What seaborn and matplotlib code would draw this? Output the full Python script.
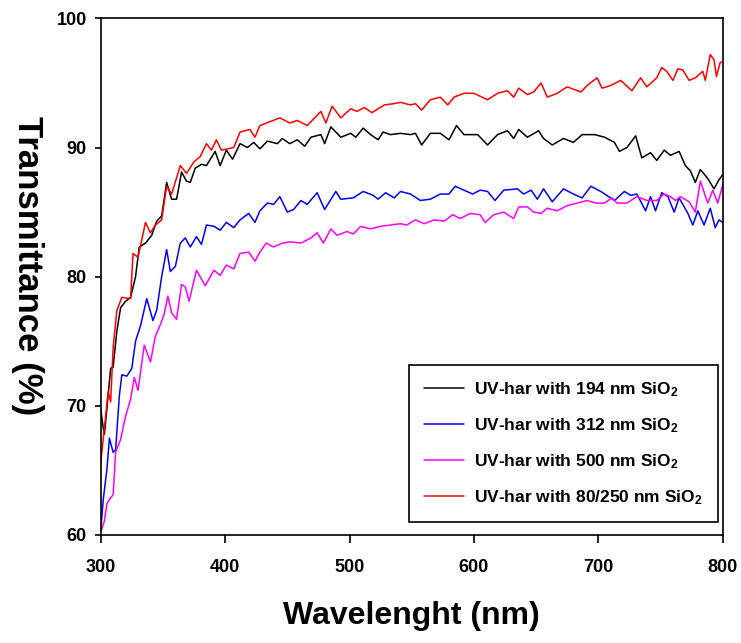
import matplotlib
matplotlib.use("Agg")
import matplotlib.pyplot as plt
from matplotlib import font_manager
import seaborn as sns
import pandas as pd

# ---- data ----
black_x = [300, 302, 303, 305, 308, 310, 313, 316, 320, 324, 328, 331, 336, 341, 345, 349, 353, 357, 361, 365,
           369, 372, 376, 381, 385, 392, 396, 401, 406, 412, 418, 423, 428, 434, 442, 446, 452, 458, 464, 469,
           477, 480, 485, 493, 501, 505, 511, 517, 523, 527, 533, 541, 549, 553, 558, 565, 573, 580, 586, 592,
           603, 611, 619, 627, 632, 636, 643, 652, 656, 663, 672, 680, 687, 697, 705, 713, 717, 723, 730, 735,
           742, 747, 753, 758, 765, 770, 774, 778, 782, 788, 793, 797, 800]
black_y = [69.8, 68.3, 67.8, 69.8, 72.9, 73.0, 75.8, 77.6, 78.1, 78.4, 80.0, 82.3, 82.6, 83.2, 84.3, 84.7, 87.3, 86.0, 86.0, 88.1,
           87.4, 87.3, 88.4, 88.7, 88.6, 89.7, 88.6, 89.8, 89.1, 90.3, 90.0, 90.4, 89.9, 90.5, 90.3, 90.7, 90.3, 90.6, 90.1, 90.8,
           91.0, 90.3, 91.6, 90.8, 91.1, 90.8, 91.5, 91.0, 90.6, 91.2, 91.0, 91.1, 91.0, 91.1, 90.2, 91.1, 91.1, 90.6, 91.7, 91.0,
           91.0, 90.2, 91.0, 91.3, 90.7, 91.4, 90.8, 91.3, 90.7, 90.2, 90.7, 90.4, 91.0, 91.0, 90.8, 90.4, 89.7, 90.0, 90.9, 89.2,
           89.6, 89.0, 89.8, 89.4, 89.7, 88.6, 88.2, 87.3, 88.3, 87.6, 86.8, 87.5, 87.9]

blue_x = [300, 302, 305, 307, 310, 312, 315, 317, 321, 325, 328, 332, 337, 342, 345, 349, 353, 356, 360, 364,
          368, 372, 377, 381, 385, 391, 396, 401, 407, 412, 419, 424, 428, 434, 439, 444, 450, 455, 461, 466,
          474, 480, 489, 493, 503, 511, 519, 523, 529, 536, 541, 549, 557, 565, 573, 580, 585, 592, 599, 605,
          611, 617, 624, 635, 640, 646, 651, 656, 663, 672, 680, 687, 694, 702, 713, 721, 726, 731, 738, 742,
          746, 751, 756, 761, 765, 772, 776, 780, 785, 790, 794, 797, 800]
blue_y = [60.3, 62.7, 65.1, 67.5, 66.4, 66.6, 70.8, 72.4, 72.3, 72.9, 75.0, 76.2, 78.3, 76.6, 77.4, 80.0, 82.1, 80.4, 80.8, 82.6,
          83.0, 82.3, 83.1, 82.5, 84.0, 83.9, 83.6, 84.2, 83.8, 84.4, 84.9, 84.2, 85.1, 85.7, 85.6, 86.2, 85.0, 85.2, 85.9, 85.6,
          86.5, 85.2, 86.6, 86.0, 86.1, 86.6, 86.3, 86.0, 86.5, 86.1, 86.6, 86.4, 85.9, 86.0, 86.4, 86.4, 87.0, 86.7, 86.4, 86.7,
          86.6, 85.9, 86.7, 86.8, 86.4, 86.7, 86.0, 86.8, 85.8, 86.8, 86.4, 86.1, 87.0, 86.6, 85.9, 86.6, 86.3, 86.4, 85.1, 86.2,
          85.1, 86.5, 86.2, 85.0, 86.1, 84.9, 84.0, 85.1, 84.0, 85.3, 83.8, 84.4, 84.2]

magenta_x = [300, 303, 305, 308, 310, 312, 316, 320, 324, 327, 330, 335, 340, 344, 348, 351, 354, 357, 361, 365,
             368, 371, 377, 384, 391, 396, 401, 407, 412, 419, 424, 428, 433, 439, 446, 452, 461, 469, 474, 479,
             485, 490, 498, 503, 509, 517, 525, 533, 541, 546, 553, 560, 568, 576, 583, 589, 597, 605, 609, 616,
             624, 632, 636, 643, 648, 654, 659, 667, 675, 683, 691, 698, 705, 711, 715, 723, 731, 739, 747, 753,
             758, 762, 766, 773, 778, 782, 788, 792, 796, 800]
magenta_y = [60.2, 61.1, 62.4, 62.9, 63.1, 66.4, 67.4, 69.2, 70.5, 72.2, 71.2, 74.7, 73.4, 75.4, 76.3, 77.1, 78.5, 77.2, 76.7, 79.4,
             79.2, 78.1, 80.5, 79.3, 80.5, 80.1, 80.9, 80.6, 81.8, 81.9, 81.2, 81.9, 82.6, 82.3, 82.6, 82.7, 82.6, 83.0, 83.4, 82.6,
             83.7, 83.2, 83.5, 83.3, 83.9, 83.7, 83.9, 84.0, 84.1, 84.0, 84.4, 84.1, 84.4, 84.3, 84.8, 84.5, 84.9, 84.8, 84.2, 84.8,
             85.0, 84.5, 85.4, 85.4, 85.0, 84.9, 85.3, 85.1, 85.5, 85.7, 85.9, 85.7, 85.7, 86.1, 85.7, 85.7, 86.2, 85.9, 85.9, 86.4,
             86.2, 85.9, 86.2, 85.8, 85.0, 87.4, 85.7, 86.7, 85.7, 87.1]

red_x = [300, 304, 306, 308, 310, 313, 317, 324, 326, 330, 336, 340, 344, 349, 353, 357, 364, 369, 375, 380,
         385, 389, 393, 397, 407, 412, 420, 424, 428, 436, 444, 452, 458, 466, 477, 481, 486, 493, 501, 506,
         512, 518, 528, 536, 541, 549, 553, 558, 565, 573, 579, 584, 592, 600, 611, 619, 627, 632, 636, 643,
         648, 654, 659, 667, 675, 686, 691, 699, 703, 710, 718, 727, 734, 739, 747, 751, 755, 760, 764, 768,
         773, 778, 784, 786, 790, 793, 795, 798, 800]
red_y = [65.6, 69.2, 71.1, 70.3, 74.5, 77.4, 78.4, 78.3, 81.8, 81.5, 84.2, 83.4, 84.0, 84.4, 87.0, 86.4, 88.6, 88.0, 88.9, 89.3,
         90.3, 89.8, 90.6, 89.8, 90.0, 91.2, 91.4, 90.8, 91.7, 92.0, 92.3, 91.9, 92.1, 91.7, 92.8, 91.9, 93.2, 92.3, 93.0, 92.8,
         93.1, 92.7, 93.3, 93.4, 93.5, 93.3, 93.4, 92.9, 93.7, 93.9, 93.3, 93.9, 94.2, 94.2, 93.7, 94.2, 94.4, 93.9, 94.6, 94.1,
         94.3, 95.0, 93.9, 94.2, 94.7, 94.3, 94.8, 95.4, 94.6, 94.8, 95.2, 94.4, 95.4, 94.7, 95.4, 96.2, 95.9, 95.2, 96.1, 96.0,
         95.2, 95.4, 95.9, 95.2, 97.2, 96.8, 95.5, 96.6, 96.6]

series_labels = [
    "UV-har with 194 nm SiO$_2$",
    "UV-har with 312 nm SiO$_2$",
    "UV-har with 500 nm SiO$_2$",
    "UV-har with 80/250 nm SiO$_2$",
]
series_colors = ["#000000", "#0000FF", "#FF00FF", "#FF0000"]
x_ticks = [300, 400, 500, 600, 700, 800]
y_ticks = [60, 70, 80, 90, 100]
x_label = "Wavelenght (nm)"
y_label = "Transmittance (%)"

# ---- build long table ----
frames = []
for lab, xs, ys in zip(series_labels,
                       [black_x, blue_x, magenta_x, red_x],
                       [black_y, blue_y, magenta_y, red_y]):
    frames.append(pd.DataFrame({"wl": xs, "T": ys, "series": lab}))
df = pd.concat(frames, ignore_index=True)

# ---- style ----
sns.set_style("white")
names = {f.name for f in font_manager.fontManager.ttflist}
fam = "Liberation Sans Narrow" if "Liberation Sans Narrow" in names else "Liberation Sans"
plt.rcParams["font.family"] = [fam, "DejaVu Sans"]
plt.rcParams["font.weight"] = "bold"
plt.rcParams["text.color"] = "black"
plt.rcParams["axes.labelcolor"] = "black"
plt.rcParams["xtick.color"] = "black"
plt.rcParams["ytick.color"] = "black"
plt.rcParams["mathtext.fontset"] = "custom"
plt.rcParams["mathtext.rm"] = f"{fam}:bold"
plt.rcParams["mathtext.it"] = f"{fam}:bold"
plt.rcParams["mathtext.bf"] = f"{fam}:bold"
plt.rcParams["mathtext.default"] = "rm"

fig = plt.figure(figsize=(7.41, 6.43), dpi=100)
ax = fig.add_axes([0.1359, 0.168, 0.8394, 0.8034])

sns.lineplot(data=df, x="wl", y="T", hue="series", hue_order=series_labels,
             palette=series_colors, estimator=None, sort=False,
             linewidth=1.1, ax=ax)

ax.set_xlim(300, 800)
ax.set_ylim(60, 100)
ax.set_xticks(x_ticks)
ax.set_yticks(y_ticks)
ax.set_xticklabels([str(t) for t in x_ticks], fontsize=13, fontweight="bold", color="black")
ax.set_yticklabels([str(t) for t in y_ticks], fontsize=13, fontweight="bold", color="black")
ax.tick_params(axis="x", bottom=True, direction="out", length=6, width=1.2, pad=11, colors="black")
ax.tick_params(axis="y", left=True, direction="out", length=4.5, width=1.2, pad=5.5, colors="black")

for sp in ax.spines.values():
    sp.set_visible(True)
    sp.set_color("black")
    sp.set_linewidth(1.2)

ax.set_xlabel(x_label, fontsize=23, fontweight="bold", va="center", color="black")
ax.xaxis.set_label_coords(0.5, -0.157)
ax.set_ylabel(y_label, fontsize=25, fontweight="bold", rotation=270, va="center", ha="center",
              color="black")
ax.yaxis.set_label_coords(-0.117, 0.521)

handles, labels = ax.get_legend_handles_labels()
leg = ax.legend(handles, labels, loc="lower left", bbox_to_anchor=(0.496, 0.026),
                borderaxespad=0, frameon=True, fancybox=False, edgecolor="black",
                framealpha=1, prop={"size": 12.5, "weight": "bold"},
                handlelength=2.3, handletextpad=0.6, labelspacing=1.0, borderpad=0.85)
leg.get_frame().set_linewidth(1.2)
for t in leg.get_texts():
    t.set_color("black")

fig.savefig("out.png", dpi=100)
